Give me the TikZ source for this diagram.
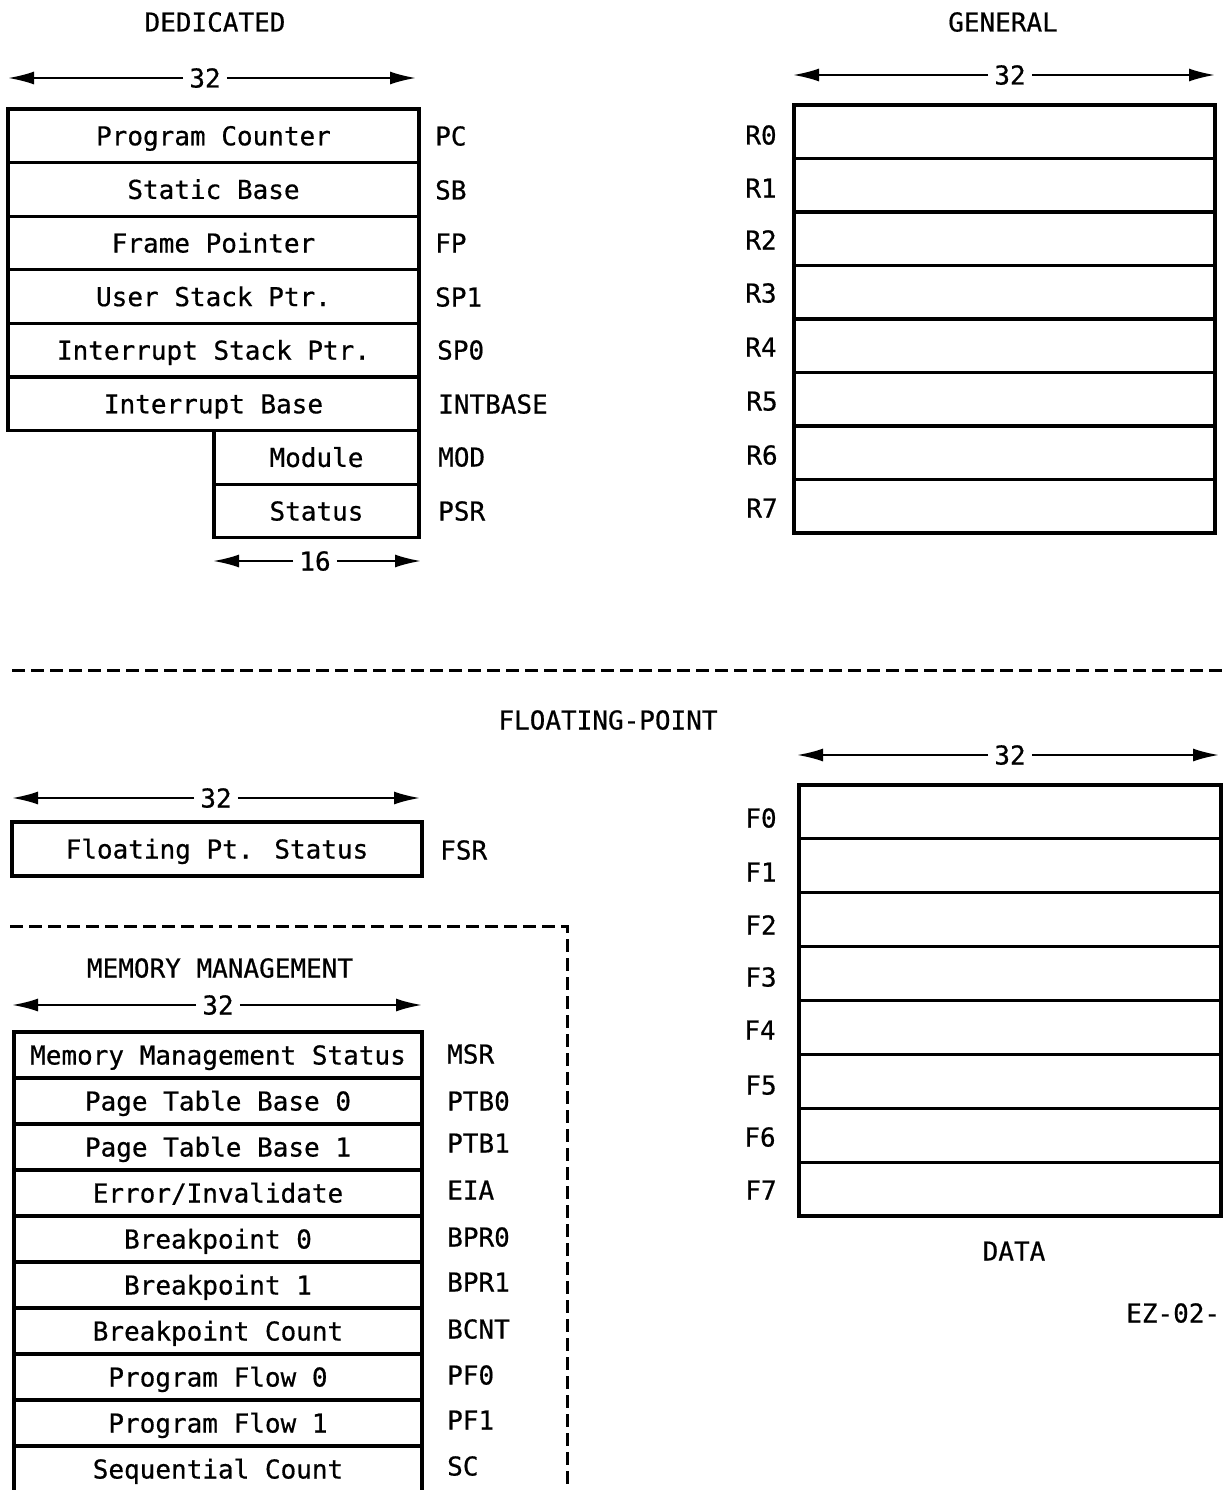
\documentclass[tikz,border=0pt]{standalone}
\usepackage{fontspec}
\setmainfont{DejaVu Sans Mono}[BoldFont=DejaVu Sans Mono, BoldFeatures={FakeBold=0.6}]
\usetikzlibrary{arrows.meta}
\tikzset{
  reg/.style={draw, line width=3.2pt, inner sep=0pt, minimum height=53.6pt, text height=19pt, text depth=0pt},
  mmreg/.style={reg, minimum height=46pt, minimum width=408pt},
  lbl/.style={anchor=west, inner sep=0pt, text height=19pt, text depth=0pt},
  head/.style={inner sep=0pt, text height=19pt, text depth=0pt},
  bits/.style={inner sep=6pt, text height=19pt, text depth=0pt},
  dimline/.style={line width=2.2pt, -{Latex[length=26pt,width=13pt]}},
  sepline/.style={line width=3pt, dash pattern=on 13pt off 6pt}
}
\begin{document}
\begin{tikzpicture}[x=1pt, y=-1pt, font=\fontsize{26}{30}\selectfont\bfseries]
\useasboundingbox (0,0) rectangle (1224,1490);
\node[head] (dedicated) at (215,22) {DEDICATED};
\node[head] (general) at (1003,22) {GENERAL};
\node[bits] (dbits) at (205,78) {32};
\coordinate (dl) at (8,78);
\coordinate (dr) at (416,78);
\draw[dimline] (dbits) -- (dl);
\draw[dimline] (dbits) -- (dr);
\node[reg, minimum width=411pt] (pc) at (213.5,135.8) {Program Counter};
\node[reg, minimum width=411pt] (sb) at (213.5,189.4) {Static Base};
\node[reg, minimum width=411pt] (fp) at (213.5,243.0) {Frame Pointer};
\node[reg, minimum width=411pt] (spone) at (213.5,296.6) {User Stack Ptr.};
\node[reg, minimum width=411pt] (spzero) at (213.5,350.2) {Interrupt Stack Ptr.};
\node[reg, minimum width=411pt] (intbase) at (213.5,403.8) {Interrupt Base};
\node[reg, minimum width=205pt] (mod) at (316.5,457.4) {Module};
\node[reg, minimum width=205pt] (psr) at (316.5,511.0) {Status};
\node[lbl] (lpc) at (435,136) {PC};
\node[lbl] (lsb) at (435,190) {SB};
\node[lbl] (lfp) at (435,243) {FP};
\node[lbl] (lspone) at (435,297) {SP1};
\node[lbl] (lspzero) at (437,350) {SP0};
\node[lbl] (lintbase) at (438,404) {INTBASE};
\node[lbl] (lmod) at (438,457) {MOD};
\node[lbl] (lpsr) at (438,511) {PSR};
\node[bits] (sbits) at (315,561) {16};
\coordinate (sl) at (213,561);
\coordinate (sr) at (421,561);
\draw[dimline] (sbits) -- (sl);
\draw[dimline] (sbits) -- (sr);
\node[bits] (gbits) at (1010,75) {32};
\coordinate (gl) at (793,75);
\coordinate (gr) at (1215,75);
\draw[dimline] (gbits) -- (gl);
\draw[dimline] (gbits) -- (gr);
\node[reg, minimum width=421pt, minimum height=53.5pt] (r0) at (1004.5,131.75) {};
\node[reg, minimum width=421pt, minimum height=53.5pt] (r1) at (1004.5,185.25) {};
\node[reg, minimum width=421pt, minimum height=53.5pt] (r2) at (1004.5,238.75) {};
\node[reg, minimum width=421pt, minimum height=53.5pt] (r3) at (1004.5,292.25) {};
\node[reg, minimum width=421pt, minimum height=53.5pt] (r4) at (1004.5,345.75) {};
\node[reg, minimum width=421pt, minimum height=53.5pt] (r5) at (1004.5,399.25) {};
\node[reg, minimum width=421pt, minimum height=53.5pt] (r6) at (1004.5,452.75) {};
\node[reg, minimum width=421pt, minimum height=53.5pt] (r7) at (1004.5,506.25) {};
\node[head] (lr0) at (761,135) {R0};
\node[head] (lr1) at (761,188) {R1};
\node[head] (lr2) at (761,240) {R2};
\node[head] (lr3) at (761,293) {R3};
\node[head] (lr4) at (761,347) {R4};
\node[head] (lr5) at (762,401) {R5};
\node[head] (lr6) at (762,455) {R6};
\node[head] (lr7) at (762,508) {R7};
\coordinate (sepl) at (12,670);
\coordinate (sepr) at (1222,670);
\draw[sepline] (sepl) -- (sepr);
\node[head] (floating) at (608,720) {FLOATING-POINT};
\node[bits] (fbits) at (216,798) {32};
\coordinate (fl) at (12,798);
\coordinate (fr) at (420,798);
\draw[dimline] (fbits) -- (fl);
\draw[dimline] (fbits) -- (fr);
\node[reg, minimum width=410pt, minimum height=54pt] (fsr) at (217,849) {Floating Pt. Status};
\node[lbl] (lfsr) at (440,850) {FSR};
\coordinate (mmtl) at (10,926);
\coordinate (mmtr) at (567,926);
\coordinate (mmbr) at (567,1490);
\draw[sepline] (mmtl) -- (mmtr) -- (mmbr);
\node[head] (memory) at (220,968) {MEMORY MANAGEMENT};
\node[bits] (mbits) at (218,1005) {32};
\coordinate (ml) at (12,1005);
\coordinate (mr) at (422,1005);
\draw[dimline] (mbits) -- (ml);
\draw[dimline] (mbits) -- (mr);
\node[mmreg] (msr) at (218,1055) {Memory Management Status};
\node[mmreg] (ptbzero) at (218,1101) {Page Table Base 0};
\node[mmreg] (ptbone) at (218,1147) {Page Table Base 1};
\node[mmreg] (eia) at (218,1193) {Error/Invalidate};
\node[mmreg] (bprzero) at (218,1239) {Breakpoint 0};
\node[mmreg] (bprone) at (218,1285) {Breakpoint 1};
\node[mmreg] (bcnt) at (218,1331) {Breakpoint Count};
\node[mmreg] (pfzero) at (218,1377) {Program Flow 0};
\node[mmreg] (pfone) at (218,1423) {Program Flow 1};
\node[mmreg] (sc) at (218,1469) {Sequential Count};
\node[lbl] (lmsr) at (447,1054) {MSR};
\node[lbl] (lptbzero) at (447,1101) {PTB0};
\node[lbl] (lptbone) at (447,1143) {PTB1};
\node[lbl] (leia) at (447,1190) {EIA};
\node[lbl] (lbprzero) at (447,1237) {BPR0};
\node[lbl] (lbprone) at (447,1282) {BPR1};
\node[lbl] (lbcnt) at (447,1329) {BCNT};
\node[lbl] (lpfzero) at (447,1375) {PF0};
\node[lbl] (lpfone) at (447,1420) {PF1};
\node[lbl] (lsc) at (447,1466) {SC};
\node[bits] (dbits2) at (1010,755) {32};
\coordinate (fdl) at (797,755);
\coordinate (fdr) at (1219,755);
\draw[dimline] (dbits2) -- (fdl);
\draw[dimline] (dbits2) -- (fdr);
\node[reg, minimum width=422pt, minimum height=53.9pt] (fzero) at (1010,811.9) {};
\node[reg, minimum width=422pt, minimum height=53.9pt] (fone) at (1010,865.8) {};
\node[reg, minimum width=422pt, minimum height=53.9pt] (ftwo) at (1010,919.7) {};
\node[reg, minimum width=422pt, minimum height=53.9pt] (fthree) at (1010,973.6) {};
\node[reg, minimum width=422pt, minimum height=53.9pt] (ffour) at (1010,1027.4) {};
\node[reg, minimum width=422pt, minimum height=53.9pt] (ffive) at (1010,1081.3) {};
\node[reg, minimum width=422pt, minimum height=53.9pt] (fsix) at (1010,1135.2) {};
\node[reg, minimum width=422pt, minimum height=53.9pt] (fseven) at (1010,1189.1) {};
\node[head] (lfzero) at (761,818) {F0};
\node[head] (lfone) at (761,872) {F1};
\node[head] (lftwo) at (761,925) {F2};
\node[head] (lfthree) at (761,977) {F3};
\node[head] (lffour) at (760,1030) {F4};
\node[head] (lffive) at (761,1085) {F5};
\node[head] (lfsix) at (760,1137) {F6};
\node[head] (lfseven) at (761,1190) {F7};
\node[head] (data) at (1014,1251) {DATA};
\node[lbl] (ez) at (1126,1313) {EZ-02-};
\end{tikzpicture}
\end{document}
